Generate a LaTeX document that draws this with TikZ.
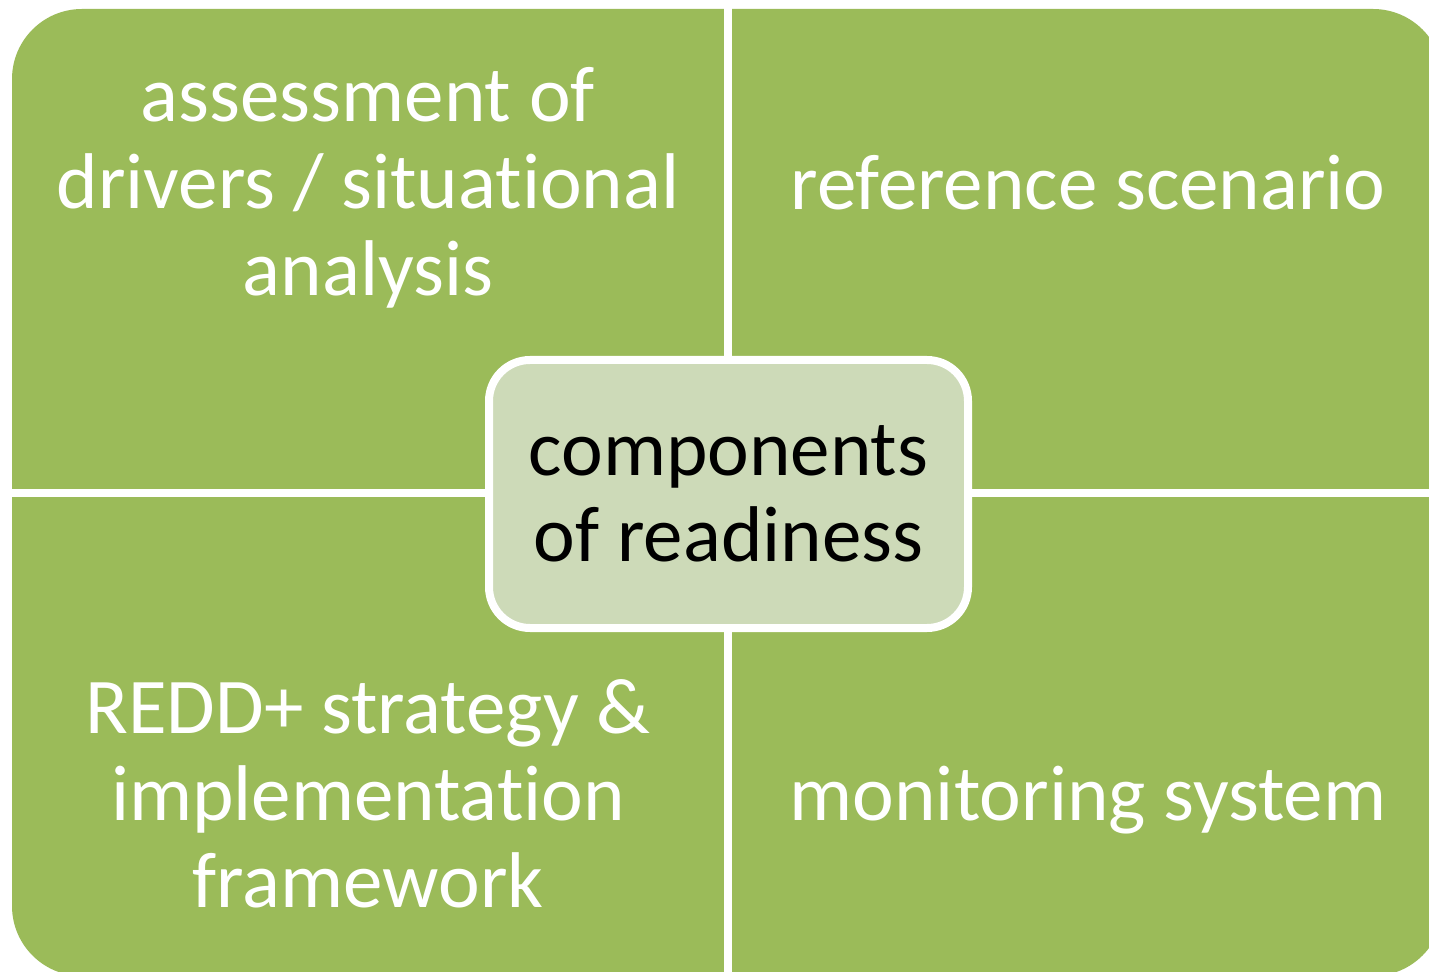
\documentclass[tikz,border=0pt]{standalone}
\usepackage{fontspec}
\setmainfont{Carlito}[Ligatures=NoCommon]
\usetikzlibrary{positioning}

\definecolor{olivegreen}{HTML}{9BBB59}
\definecolor{palegreen}{HTML}{CDDAB8}

\tikzset{
  quadtext/.style={text=white, align=center, inner sep=0pt,
    font=\fontsize{39.5}{43.5}\selectfont},
  hubbox/.style={draw=white, line width=4pt, fill=palegreen,
    rounded corners=20.5pt, minimum width=239.5pt, minimum height=134pt,
    align=center, inner sep=0pt, font=\fontsize{39.5}{43}\selectfont}
}

\begin{document}
\begin{tikzpicture}[x=0.5pt, y=-0.5pt]
\useasboundingbox (0,0) rectangle (1429,972);
\clip (0,0) rectangle (1429,972);
% four quadrants
\fill[olivegreen, rounded corners=35pt] (12,9) rectangle (1443,976);
\fill[white] (724,0) rectangle (732,972);
\fill[white] (0,489) rectangle (1429,497);
% quadrant labels
\node[quadtext] (drivers) at (368,188) {assessment of\\drivers / situational\\analysis};
\node[quadtext, anchor=base] (refscen) at (1088,210) {reference scenario};
\node[quadtext] (strategy) at (368,794) {REDD+ strategy \&\\implementation\\framework};
\node[quadtext, anchor=base] (monitor) at (1088,820) {monitoring system};
% centre
\node[hubbox] (hub) at (728.5,494) {components\\of readiness};
\end{tikzpicture}
\end{document}
